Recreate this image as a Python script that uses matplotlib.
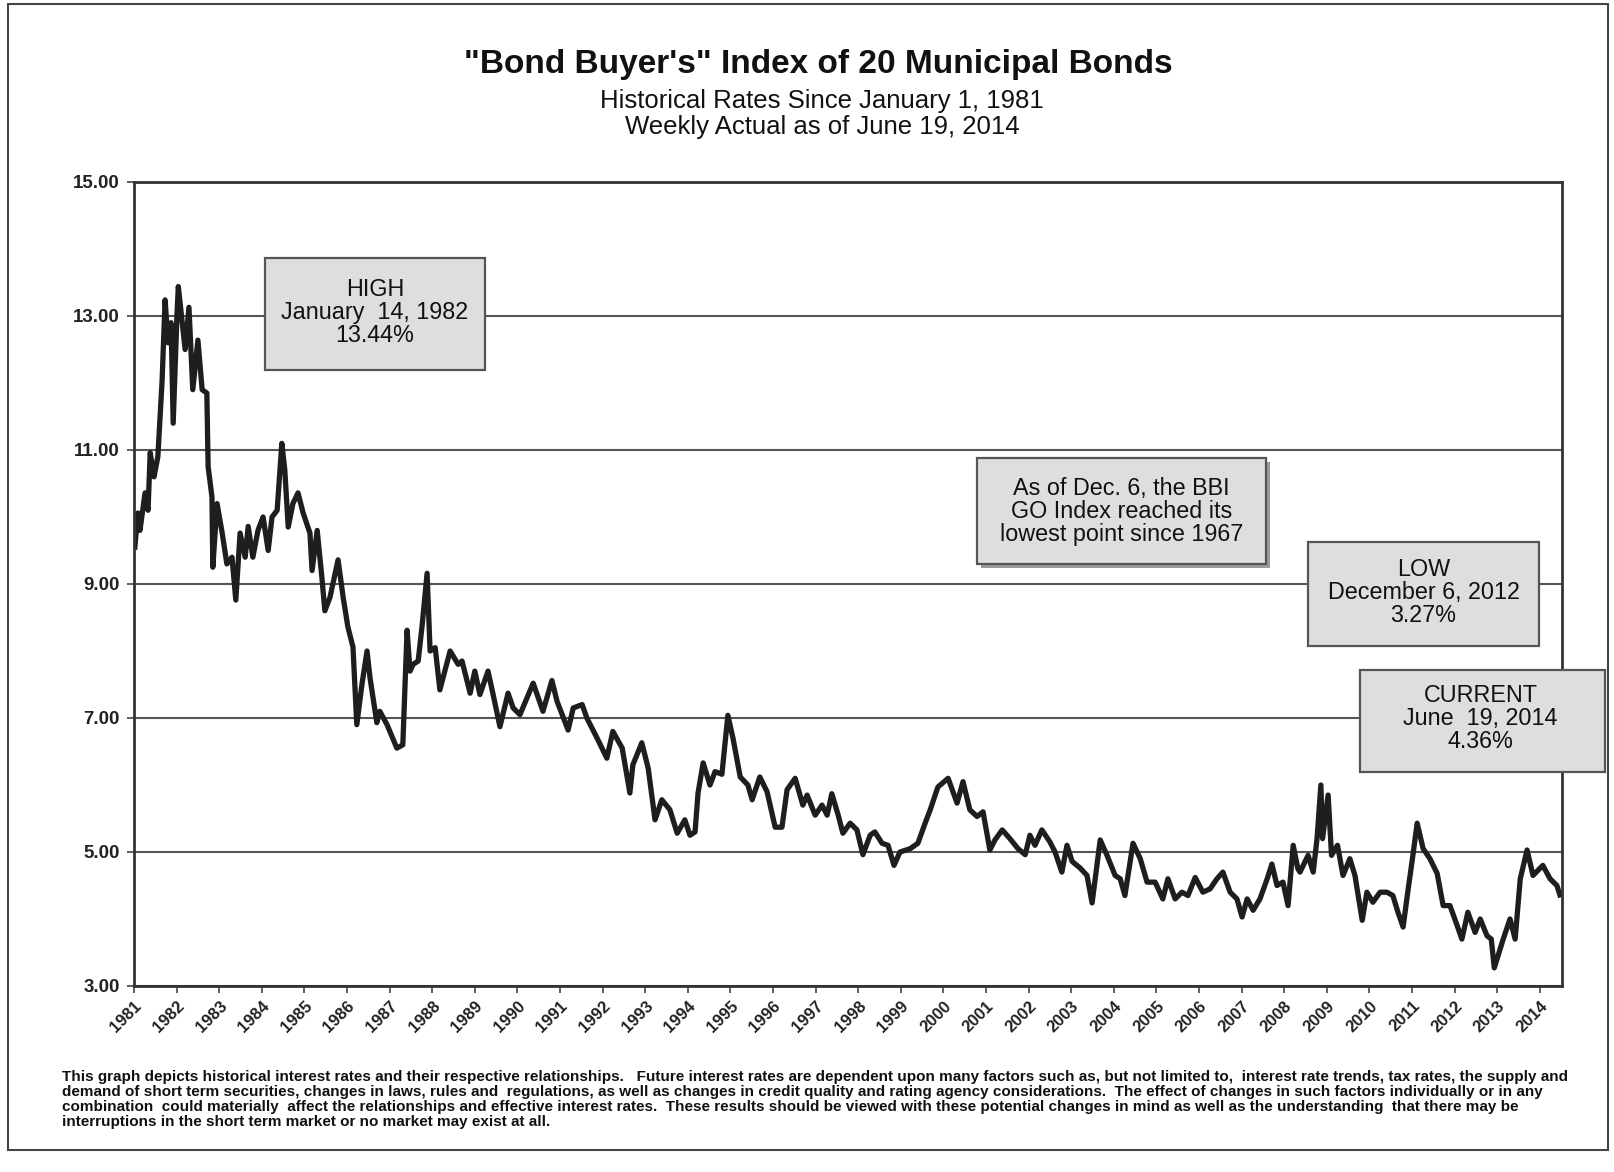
import matplotlib.pyplot as plt
from matplotlib.patches import Rectangle

plt.rcParams['font.family'] = ['Liberation Sans', 'DejaVu Sans']

# weekly index (decimal year, rate %)
years = [1981.02, 1981.09, 1981.14, 1981.26, 1981.33, 1981.38, 1981.47, 1981.56, 1981.66, 1981.73,
         1981.80, 1981.87, 1981.92, 1982.01, 1982.04, 1982.20, 1982.29, 1982.38, 1982.50, 1982.60,
         1982.71, 1982.74, 1982.83, 1982.85, 1982.95, 1983.07, 1983.18, 1983.30, 1983.39, 1983.49,
         1983.61, 1983.68, 1983.79, 1983.91, 1984.03, 1984.15, 1984.24, 1984.36, 1984.47, 1984.54,
         1984.62, 1984.73, 1984.85, 1984.97, 1985.13, 1985.18, 1985.30, 1985.41, 1985.48, 1985.60,
         1985.79, 1985.91, 1986.02, 1986.14, 1986.23, 1986.35, 1986.47, 1986.54, 1986.70, 1986.77,
         1986.94, 1987.17, 1987.31, 1987.41, 1987.48, 1987.55, 1987.67, 1987.76, 1987.88, 1987.95,
         1988.07, 1988.18, 1988.42, 1988.61, 1988.70, 1988.89, 1989.00, 1989.12, 1989.31, 1989.43,
         1989.59, 1989.78, 1989.90, 1990.06, 1990.37, 1990.60, 1990.81, 1990.93, 1991.19, 1991.31,
         1991.52, 1991.63, 1991.87, 1992.10, 1992.24, 1992.46, 1992.64, 1992.71, 1992.92, 1993.07,
         1993.23, 1993.39, 1993.58, 1993.75, 1993.93, 1994.05, 1994.17, 1994.24, 1994.36, 1994.52,
         1994.64, 1994.80, 1994.94, 1995.06, 1995.23, 1995.41, 1995.51, 1995.69, 1995.86, 1996.05,
         1996.21, 1996.33, 1996.52, 1996.70, 1996.80, 1996.99, 1997.15, 1997.27, 1997.38, 1997.53,
         1997.64, 1997.81, 1997.97, 1998.11, 1998.28, 1998.39, 1998.56, 1998.70, 1998.84, 1998.98,
         1999.22, 1999.40, 1999.57, 1999.69, 1999.87, 2000.11, 2000.32, 2000.46, 2000.62, 2000.79,
         2000.93, 2001.09, 2001.21, 2001.38, 2001.49, 2001.56, 2001.75, 2001.92, 2002.03, 2002.15,
         2002.31, 2002.50, 2002.62, 2002.78, 2002.90, 2003.02, 2003.21, 2003.37, 2003.49, 2003.68,
         2003.84, 2004.03, 2004.15, 2004.26, 2004.45, 2004.62, 2004.78, 2004.97, 2005.15, 2005.27,
         2005.44, 2005.60, 2005.74, 2005.91, 2006.09, 2006.26, 2006.42, 2006.56, 2006.73, 2006.89,
         2007.01, 2007.13, 2007.27, 2007.43, 2007.60, 2007.71, 2007.83, 2007.97, 2008.09, 2008.21,
         2008.32, 2008.37, 2008.56, 2008.68, 2008.77, 2008.86, 2008.90, 2009.03, 2009.11, 2009.25,
         2009.38, 2009.54, 2009.66, 2009.83, 2009.94, 2010.08, 2010.25, 2010.41, 2010.55, 2010.67,
         2010.79, 2010.91, 2011.02, 2011.12, 2011.26, 2011.42, 2011.59, 2011.73, 2011.89, 2012.06,
         2012.17, 2012.31, 2012.48, 2012.60, 2012.76, 2012.86, 2012.93, 2013.14, 2013.30, 2013.42,
         2013.54, 2013.70, 2013.84, 2014.07, 2014.24, 2014.40, 2014.47]
rates = [9.55, 10.06, 9.8, 10.36, 10.1, 10.96, 10.6, 10.9, 12.04, 13.24,
         12.6, 12.9, 11.4, 13.04, 13.44, 12.5, 13.13, 11.9, 12.64, 11.9,
         11.85, 10.75, 10.3, 9.25, 10.2, 9.76, 9.3, 9.4, 8.76, 9.76,
         9.4, 9.86, 9.4, 9.8, 10.0, 9.5, 10.0, 10.1, 11.1, 10.7,
         9.85, 10.2, 10.36, 10.06, 9.76, 9.2, 9.8, 9.1, 8.6, 8.8,
         9.36, 8.8, 8.36, 8.06, 6.9, 7.5, 8.0, 7.6, 6.93, 7.1,
         6.9, 6.55, 6.6, 8.31, 7.7, 7.8, 7.85, 8.36, 9.16, 8.0,
         8.05, 7.42, 8.0, 7.8, 7.85, 7.37, 7.7, 7.35, 7.7, 7.35,
         6.87, 7.37, 7.15, 7.05, 7.52, 7.1, 7.56, 7.25, 6.82, 7.15,
         7.2, 7.0, 6.7, 6.4, 6.8, 6.55, 5.88, 6.3, 6.63, 6.25,
         5.48, 5.78, 5.63, 5.28, 5.48, 5.25, 5.3, 5.88, 6.33, 6.0,
         6.2, 6.16, 7.04, 6.7, 6.12, 6.0, 5.78, 6.12, 5.9, 5.37,
         5.37, 5.93, 6.1, 5.7, 5.85, 5.55, 5.7, 5.55, 5.87, 5.55,
         5.28, 5.43, 5.33, 4.96, 5.25, 5.3, 5.13, 5.1, 4.8, 5.0,
         5.05, 5.13, 5.43, 5.63, 5.97, 6.1, 5.73, 6.05, 5.63, 5.53,
         5.6, 5.03, 5.18, 5.33, 5.25, 5.2, 5.05, 4.96, 5.25, 5.1,
         5.33, 5.15, 5.0, 4.7, 5.1, 4.86, 4.76, 4.65, 4.24, 5.18,
         4.95, 4.65, 4.6, 4.35, 5.13, 4.9, 4.55, 4.55, 4.3, 4.6,
         4.3, 4.4, 4.35, 4.62, 4.4, 4.45, 4.6, 4.7, 4.4, 4.3,
         4.03, 4.3, 4.13, 4.3, 4.6, 4.82, 4.5, 4.55, 4.2, 5.1,
         4.75, 4.7, 4.95, 4.7, 5.2, 6.0, 5.2, 5.85, 4.95, 5.1,
         4.65, 4.9, 4.65, 3.98, 4.4, 4.25, 4.4, 4.4, 4.35, 4.1,
         3.88, 4.45, 4.95, 5.43, 5.05, 4.9, 4.68, 4.2, 4.2, 3.9,
         3.7, 4.1, 3.8, 4.0, 3.75, 3.7, 3.27, 3.7, 4.0, 3.7,
         4.6, 5.03, 4.65, 4.8, 4.6, 4.5, 4.36]

year_ticks = list(range(1981, 2015))
rate_ticks = [3, 5, 7, 9, 11, 13, 15]

title = '"Bond Buyer\'s" Index of 20 Municipal Bonds'
subtitle = 'Historical Rates Since January 1, 1981\nWeekly Actual as of June 19, 2014'
high_note = 'HIGH\nJanuary  14, 1982\n13.44%'
bbi_note = 'As of Dec. 6, the BBI\nGO Index reached its\nlowest point since 1967'
low_note = 'LOW\nDecember 6, 2012\n3.27%'
current_note = 'CURRENT\nJune  19, 2014\n4.36%'
footnote = ('This graph depicts historical interest rates and their respective relationships.   Future interest rates are '
            'dependent upon many factors such as, but not limited to,  interest rate trends, tax rates, the supply and\n'
            'demand of short term securities, changes in laws, rules and  regulations, as well as changes in credit quality '
            'and rating agency considerations.  The effect of changes in such factors individually or in any\n'
            'combination  could materially  affect the relationships and effective interest rates.  These results should '
            'be viewed with these potential changes in mind as well as the understanding  that there may be\n'
            'interruptions in the short term market or no market may exist at all.')

W, H = 1614, 1172


def fx(x):
    return x / W


def fy(y):
    return 1 - y / H


fig = plt.figure(figsize=(W / 100, H / 100), dpi=100)

# outer frame
fig.patches.append(Rectangle((fx(8), fy(1150)), fx(1600), (1146) / H, transform=fig.transFigure,
                             fill=False, edgecolor='#444444', lw=1.5))

ax = fig.add_axes([fx(134), fy(986), (1562 - 134) / W, (986 - 182) / H])
ax.plot(years, rates, color='#1e1e1e', lw=3.8, solid_joinstyle='round')

ax.set_xlim(1981, 2014.52)
ax.set_ylim(3, 15)
ax.set_yticks(rate_ticks)
ax.set_yticklabels(['%.2f' % v for v in rate_ticks], fontsize=13.5, fontweight='bold', color='#222222')
ax.set_xticks(year_ticks)
ax.set_xticklabels([str(y) for y in year_ticks], rotation=45, ha='right', va='top',
                   rotation_mode='anchor', fontsize=12, fontweight='bold', color='#222222')
ax.tick_params(axis='x', direction='out', length=5, width=1.2, color='#444444', pad=4)
ax.tick_params(axis='y', direction='out', length=5, width=1.2, color='#444444', pad=5)
ax.grid(axis='y', color='#555555', lw=1.5)
for s in ax.spines.values():
    s.set_color('#333333')
    s.set_linewidth(2)

# titles
fig.text(fx(818), fy(65), title, ha='center', va='center', fontsize=24, fontweight='bold', color='#111111')
fig.text(fx(822), fy(114), subtitle, ha='center', va='center', fontsize=18.5, linespacing=1.12, color='#111111')


def note_box(x0, y0, x1, y1, shadow=False):
    if shadow:
        fig.patches.append(Rectangle((fx(x0 + 4), fy(y1 + 4)), (x1 - x0) / W, (y1 - y0) / H,
                                     transform=fig.transFigure, facecolor='#9a9a9a', edgecolor='none', zorder=4))
    fig.patches.append(Rectangle((fx(x0), fy(y1)), (x1 - x0) / W, (y1 - y0) / H, transform=fig.transFigure,
                                 facecolor='#dedede', edgecolor='#555555', lw=1.6, zorder=5))
    return (x0 + x1) / 2


note_kw = dict(ha='center', va='center', fontsize=16.8, linespacing=1.0, zorder=6, color='#111111')
cx = note_box(265, 258, 485, 370)
fig.text(fx(cx), fy(312), high_note, **note_kw)
cx = note_box(977, 458, 1266, 564, shadow=True)
fig.text(fx(cx), fy(511), bbi_note, **note_kw)
cx = note_box(1308, 542, 1539, 646)
fig.text(fx(cx), fy(593), low_note, **note_kw)
cx = note_box(1360, 670, 1605, 772)
fig.text(fx(cx - 2), fy(718), current_note, **note_kw)

fig.text(fx(62), fy(1070), footnote, ha='left', va='top', fontsize=11, fontweight='bold',
         linespacing=1.08, color='#111111')

fig.savefig('out.png', dpi=100)
